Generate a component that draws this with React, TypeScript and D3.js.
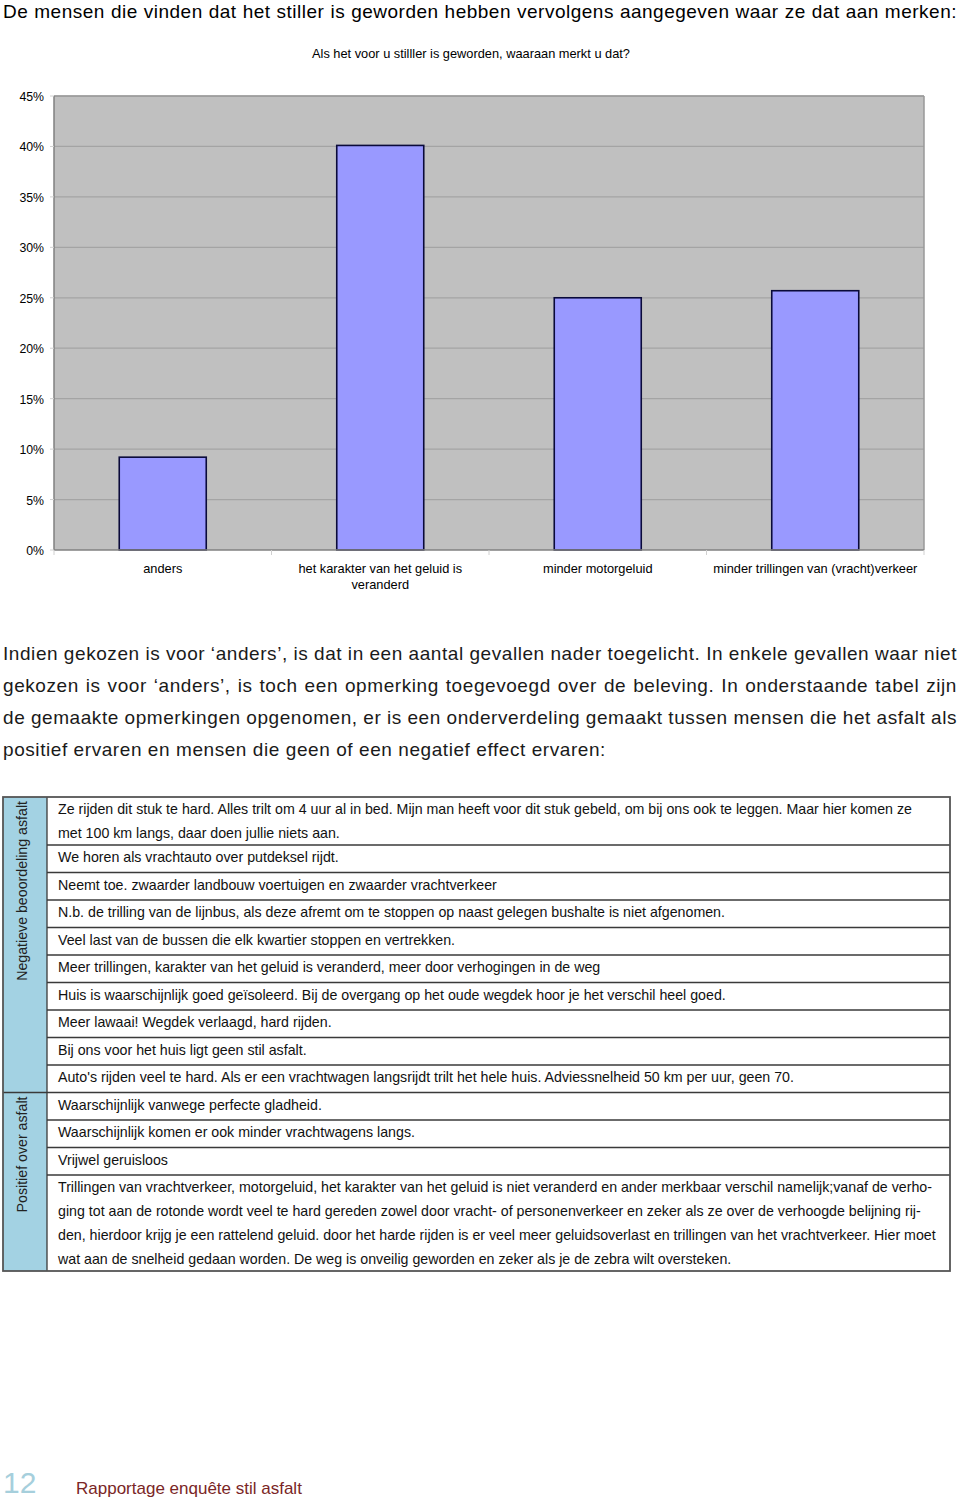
import React, { useEffect, useRef } from "react";
import * as d3 from "d3";

const pageTitle =
  "De mensen die vinden dat het stiller is geworden hebben vervolgens aangegeven waar ze dat aan merken:";
const chartTitle = "Als het voor u stilller is geworden, waaraan merkt u dat?";
const categories = [
  "anders",
  "het karakter van het geluid is\nveranderd",
  "minder motorgeluid",
  "minder trillingen van (vracht)verkeer",
];
const values = [9.2, 40.1, 25.0, 25.7];
const yTicks = [0, 5, 10, 15, 20, 25, 30, 35, 40, 45];

const paragraphLines = [
  "Indien gekozen is voor \u2018anders\u2019, is dat in een aantal gevallen nader toegelicht. In enkele gevallen waar niet",
  "gekozen is voor \u2018anders\u2019, is toch een opmerking toegevoegd over de beleving. In onderstaande tabel zijn",
  "de gemaakte opmerkingen opgenomen, er is een onderverdeling gemaakt tussen mensen die het asfalt als",
  "positief ervaren en mensen die geen of een negatief effect ervaren:",
];

const groupLabels = ["Negatieve beoordeling asfalt", "Positief over asfalt"];

const negativeComments: string[][] = [
  [
    "Ze rijden dit stuk te hard. Alles trilt om 4 uur al in bed. Mijn man heeft voor dit stuk gebeld, om bij ons ook te leggen. Maar hier komen ze",
    "met 100 km langs, daar doen jullie niets aan.",
  ],
  ["We horen als vrachtauto over putdeksel rijdt."],
  ["Neemt toe. zwaarder landbouw voertuigen en zwaarder vrachtverkeer"],
  ["N.b. de trilling van de lijnbus, als deze afremt om te stoppen op naast gelegen bushalte is niet afgenomen."],
  ["Veel last van de bussen die elk kwartier stoppen en vertrekken."],
  ["Meer trillingen, karakter van het geluid is veranderd, meer door verhogingen in de weg"],
  ["Huis is waarschijnlijk goed ge\u00efsoleerd. Bij de overgang op het oude wegdek hoor je het verschil heel goed."],
  ["Meer lawaai! Wegdek verlaagd, hard rijden."],
  ["Bij ons voor het huis ligt geen stil asfalt."],
  ["Auto's rijden veel te hard. Als er een vrachtwagen langsrijdt trilt het hele huis. Adviessnelheid 50 km per uur, geen 70."],
];

const positiveComments: string[][] = [
  ["Waarschijnlijk vanwege perfecte gladheid."],
  ["Waarschijnlijk komen er ook minder vrachtwagens langs."],
  ["Vrijwel geruisloos"],
  [
    "Trillingen van vrachtverkeer, motorgeluid, het karakter van het geluid is niet veranderd en ander merkbaar verschil namelijk;vanaf de verho-",
    "ging tot aan de rotonde wordt veel te hard gereden zowel door vracht- of personenverkeer en zeker als ze over de verhoogde belijning rij-",
    "den, hierdoor krijg je een rattelend geluid. door het harde rijden is er veel meer geluidsoverlast en trillingen van het vrachtverkeer. Hier moet",
    "wat aan de snelheid gedaan worden. De weg is onveilig geworden en zeker als je de zebra wilt oversteken.",
  ],
];

const footerPage = "12";
const footerText = "Rapportage enqu\u00eate stil asfalt";

const FONT = "'Liberation Sans', Arial, Helvetica, sans-serif";

export default function App() {
  const svgRef = useRef<SVGSVGElement>(null);

  const plotLeft = 54;
  const plotRight = 924;
  const plotTop = 96;
  const plotBottom = 550;

  const x = d3
    .scaleBand<string>()
    .domain(categories)
    .range([plotLeft, plotRight])
    .paddingInner(0.6)
    .paddingOuter(0.3);
  const y = d3.scaleLinear().domain([0, 45]).range([plotBottom, plotTop]);
  const step = x.step();
  const boundaries = d3.range(categories.length + 1).map((i) => plotLeft + i * step);

  useEffect(() => {
    const svg = d3.select(svgRef.current);
    svg.selectAll<SVGTextElement, unknown>("text[data-justify]").each(function () {
      const el = this as SVGTextElement;
      const target = +(el.getAttribute("data-justify") || 0);
      el.style.wordSpacing = "0px";
      const len = el.getComputedTextLength();
      const spaces = (el.textContent || "").split(" ").length - 1;
      if (spaces > 0) el.style.wordSpacing = `${(target - len) / spaces}px`;
    });
  }, []);

  // table layout
  const tableLeft = 3;
  const tableRight = 950;
  const labelColRight = 47;
  const tableTop = 797;
  const lineH = 24;
  const singleH = 27.5;
  const rowH = (r: string[]) => (r.length > 1 ? r.length * lineH : singleH);
  const groups = [negativeComments, positiveComments];
  let cursor = tableTop;
  const groupLayouts = groups.map((rows, gi) => {
    const top = cursor;
    const rowTops = rows.map((r) => {
      const t = cursor;
      cursor += rowH(r);
      return t;
    });
    return { label: groupLabels[gi], rows, top, bottom: cursor, rowTops };
  });
  const tableBottom = cursor;

  return (
    <svg
      ref={svgRef}
      width={960}
      height={1499}
      style={{ position: "absolute", left: 0, top: 0, display: "block", background: "#fff" }}
      fontFamily={FONT}
    >
      {/* page title */}
      <text x={3} y={18} fontSize={19} letterSpacing={0.5} fill="#000" data-justify={954}>
        {pageTitle}
      </text>

      {/* chart title */}
      <text x={471} y={58} fontSize={12.8} textAnchor="middle" fill="#000">
        {chartTitle}
      </text>

      {/* plot area */}
      <rect x={plotLeft} y={plotTop} width={plotRight - plotLeft} height={plotBottom - plotTop} fill="#c0c0c0" />
      {yTicks
        .filter((t) => t > 0)
        .map((t) => (
          <line key={t} x1={plotLeft} x2={plotRight} y1={y(t)} y2={y(t)} stroke="#a4a4a4" strokeWidth={1.2} />
        ))}
      <line x1={plotLeft} x2={plotRight} y1={plotTop} y2={plotTop} stroke="#999" strokeWidth={1.5} />
      <line x1={plotRight} x2={plotRight} y1={plotTop} y2={plotBottom} stroke="#999" strokeWidth={1.5} />

      {/* bars */}
      {categories.map((c, i) => (
        <rect
          key={c}
          x={x(c)}
          y={y(values[i])}
          width={x.bandwidth()}
          height={y(0) - y(values[i])}
          fill="#9999ff"
          stroke="#0a0a3a"
          strokeWidth={1.6}
        />
      ))}

      {/* axes */}
      <line x1={plotLeft} x2={plotLeft} y1={plotTop} y2={plotBottom} stroke="#808080" strokeWidth={1.5} />
      <line x1={plotLeft} x2={plotRight} y1={plotBottom} y2={plotBottom} stroke="#808080" strokeWidth={1.5} />
      {boundaries.map((b, i) => (
        <line key={i} x1={b} x2={b} y1={plotBottom} y2={plotBottom + 5} stroke="#d0d0d0" strokeWidth={1} />
      ))}
      {yTicks.map((t) => (
        <line key={t} x1={plotLeft - 4} x2={plotLeft} y1={y(t)} y2={y(t)} stroke="#d0d0d0" strokeWidth={1} />
      ))}
      {yTicks.map((t) => (
        <text key={t} x={44} y={y(t) + 5} fontSize={12.3} textAnchor="end" fill="#000">
          {t}%
        </text>
      ))}
      {categories.map((c) => (
        <text key={c} x={(x(c) || 0) + x.bandwidth() / 2} y={573} fontSize={12.8} textAnchor="middle" fill="#000">
          {c.split("\n").map((ln, j) => (
            <tspan key={j} x={(x(c) || 0) + x.bandwidth() / 2} dy={j === 0 ? 0 : 16}>
              {ln}
            </tspan>
          ))}
        </text>
      ))}

      {/* paragraph */}
      {paragraphLines.map((ln, i) => (
        <text
          key={i}
          x={3}
          y={660 + i * 32}
          fontSize={19}
          letterSpacing={0.57}
          fill="#1a1a1a"
          data-justify={i < paragraphLines.length - 1 ? 954 : undefined}
        >
          {ln}
        </text>
      ))}

      {/* table */}
      <rect x={tableLeft} y={tableTop} width={labelColRight - tableLeft} height={tableBottom - tableTop} fill="#a3d2e3" />
      {groupLayouts.map((g, gi) => (
        <g key={gi}>
          <text
            transform={`translate(27, ${g.top + 4}) rotate(-90)`}
            fontSize={14.2}
            textAnchor="end"
            fill="#222"
          >
            {g.label}
          </text>
          {g.rows.map((r, ri) => (
            <g key={ri}>
              {ri > 0 && (
                <line
                  x1={labelColRight}
                  x2={tableRight}
                  y1={g.rowTops[ri]}
                  y2={g.rowTops[ri]}
                  stroke="#3a3a3a"
                  strokeWidth={1.3}
                />
              )}
              {r.map((ln, li) => (
                <text
                  key={li}
                  transform={`translate(58, ${g.rowTops[ri] + 17 + li * lineH}) scale(1.015, 1)`}
                  fontSize={14}
                  fill="#111"
                >
                  {ln}
                </text>
              ))}
            </g>
          ))}
          {gi > 0 && (
            <line x1={tableLeft} x2={tableRight} y1={g.top} y2={g.top} stroke="#3a3a3a" strokeWidth={1.5} />
          )}
        </g>
      ))}
      <line x1={labelColRight} x2={labelColRight} y1={tableTop} y2={tableBottom} stroke="#3a3a3a" strokeWidth={1.3} />
      <rect
        x={tableLeft}
        y={tableTop}
        width={tableRight - tableLeft}
        height={tableBottom - tableTop}
        fill="none"
        stroke="#555"
        strokeWidth={1.8}
      />

      {/* footer */}
      <text x={3} y={1493} fontSize={30} fill="#a6cfdc">
        {footerPage}
      </text>
      <text x={76} y={1494} fontSize={17} fill="#7a2626">
        {footerText}
      </text>
    </svg>
  );
}
